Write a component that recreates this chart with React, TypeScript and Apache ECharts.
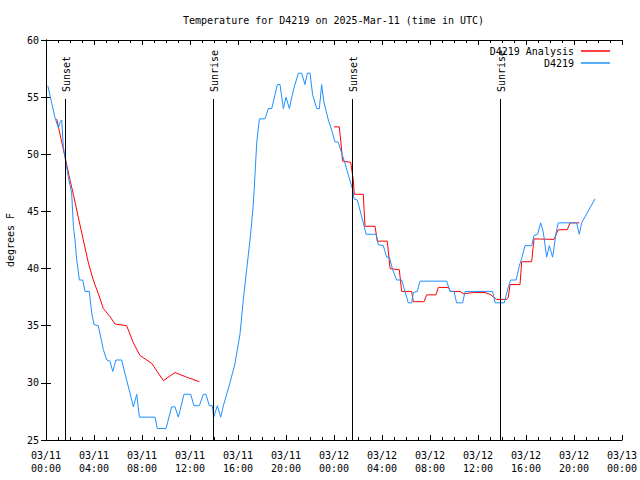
import React, { useEffect, useRef } from "react";
import * as echarts from "echarts";

const TITLE = "Temperature for D4219 on 2025-Mar-11 (time in UTC)";
const Y_NAME = "degrees F";
const SERIES_ANALYSIS = "D4219 Analysis";
const SERIES_OBS = "D4219";

// hours since 2025-03-11 00:00 UTC
const obsHours = [
  0.15, 0.47, 0.75, 1.03, 1.17, 1.31, 1.44, 1.67, 1.86, 2.14, 2.28, 2.42, 2.56, 2.78, 3.06, 3.25,
  3.61, 3.81, 4.0, 4.36, 4.78, 5.06, 5.33, 5.56, 5.83, 6.31, 6.58, 7.0, 7.28, 7.56, 7.78, 9.08,
  9.28, 10.0, 10.47, 10.75, 11.03, 11.5, 12.06, 12.33, 12.78, 13.11, 13.33, 13.61, 13.86, 13.97,
  14.28, 14.56, 14.78, 15.33, 15.75, 16.17, 16.44, 16.72, 17.0, 17.14, 17.28, 17.42, 17.56, 17.78,
  18.25, 18.53, 18.81, 19.08, 19.28, 19.5, 19.78, 20.0, 20.28, 20.61, 21.03, 21.31, 21.58, 21.78,
  22.0, 22.22, 22.56, 22.78, 22.97, 23.17, 23.53, 23.81, 24.08, 24.36, 24.64, 24.92, 25.19, 25.56,
  25.67, 25.94, 26.17, 26.44, 26.67, 27.5, 27.69, 28.11, 28.39, 28.61, 28.89, 29.22, 29.64, 29.92,
  30.19, 30.47, 30.61, 30.94, 31.17, 33.39, 33.67, 34.0, 34.22, 34.72, 34.92, 37.22, 37.42, 38.19,
  38.53, 38.72, 39.17, 39.44, 39.64, 39.92, 40.47, 40.67, 40.97, 41.22, 41.44, 41.72, 41.94, 42.22,
  42.5, 42.69, 44.22, 44.44, 44.64, 45.75,
];
const obsTemps = [
  56.0, 54.5, 53.2, 52.3, 52.8, 53.0, 50.7, 49.2, 48.0, 46.6, 43.7, 42.5, 40.75, 39.0, 39.0, 38.0,
  38.0, 36.1, 35.1, 35.0, 32.9, 32.0, 31.9, 31.0, 32.0, 32.0, 30.8, 29.1, 27.9, 29.0, 27.0, 27.0,
  26.0, 26.0, 27.9, 27.9, 27.0, 29.0, 29.0, 28.0, 28.0, 29.0, 29.0, 28.0, 28.0, 27.0,
  28.0, 27.0, 28.0, 30.0, 31.7, 34.3, 37.25, 39.9, 42.5, 44.0, 45.7, 48.3, 51.0, 53.1,
  53.1, 54.0, 54.0, 55.2, 56.1, 56.1, 54.0, 55.0, 54.0, 55.6, 57.1, 57.1, 56.1, 57.1,
  57.1, 55.2, 54.0, 54.0, 56.1, 54.5, 53.0, 52.1, 51.1, 51.05, 50.1, 49.2, 48.2, 46.9,
  46.1, 46.0, 45.1, 44.0, 43.0, 43.0, 42.1, 42.0, 41.0, 41.0, 39.9, 39.0, 39.0, 38.0,
  37.0, 37.0, 37.9, 38.0, 38.9, 38.9, 38.0, 38.0, 37.0, 37.0, 38.0, 38.0, 37.0, 37.0,
  38.4, 39.0, 39.0, 40.2, 40.9, 42.0, 42.0, 42.9, 43.0, 44.0, 43.2, 41.0, 42.0, 41.0,
  43.1, 44.0, 44.0, 43.0, 44.0, 46.1,
];

// null marks the gap in the analysis series
const anaHours = [
  0.89, 1.22, 1.58, 2.0, 2.28, 2.69, 3.11, 3.53, 3.94, 4.36, 4.78, 5.33, 5.75, 6.72, 7.28, 7.83,
  8.81, 9.78, 10.75, 11.72, 12.78, 18.0,
  24.0, 24.44, 24.58, 24.72, 25.39, 25.61, 25.69, 26.44, 26.58, 27.42, 27.61, 28.44, 28.67, 29.44,
  29.64, 30.47, 30.61, 31.5, 31.72, 32.5, 32.69, 33.53, 33.72, 34.5, 34.78, 35.61, 36.58, 37.0,
  37.56, 38.39, 38.53, 38.67, 39.5, 39.64, 40.47, 40.67, 42.33, 42.69, 43.44, 43.67, 44.44,
];
const anaTemps: (number | null)[] = [
  53.1, 51.5, 49.8, 47.75, 46.5, 44.5, 42.5, 40.5, 39.0, 37.8, 36.5, 35.8, 35.15, 35.0, 33.5, 32.4,
  31.7, 30.2, 30.9, 30.5, 30.1, null,
  52.4, 52.4, 51.0, 49.4, 49.3, 47.75, 46.5, 46.5, 43.7, 43.7, 42.4, 42.4, 40.0, 39.9,
  38.0, 38.0, 37.1, 37.1, 37.7, 37.7, 38.35, 38.35, 38.0, 38.0, 37.8, 37.9, 37.9, 37.75,
  37.3, 37.3, 37.5, 38.6, 38.6, 40.6, 40.6, 42.6, 42.55, 43.4, 43.4, 44.0, 44.0,
];

const eventNames = ["Sunset", "Sunrise", "Sunset", "Sunrise"];
const eventHours = [1.61, 13.94, 25.53, 37.86];
const eventLineTop = 54.84;
const eventLabelBase = 55.45;

const X_MIN = 0;
const X_MAX = 48;
const X_STEP = 4;
const Y_MIN = 25;
const Y_MAX = 60;
const Y_STEP = 5;

const FONT = '"DejaVu Sans Mono", "Liberation Mono", monospace';

function xLabel(v: number): string {
  const day = 11 + Math.floor(v / 24);
  const hh = v % 24;
  return `03/${day}\n${String(hh).padStart(2, "0")}:00`;
}

export default function App() {
  const ref = useRef<HTMLDivElement>(null);
  useEffect(() => {
    if (!ref.current) return;
    const chart = echarts.init(ref.current, undefined, { renderer: "svg" });
    const obsData = obsHours.map((h, i) => [h, obsTemps[i]]);
    const anaData = anaHours.map((h, i) => [h, anaTemps[i] === null ? "-" : anaTemps[i]]);
    const axisLine = { show: true, lineStyle: { color: "#000", width: 1 } };
    const textStyle = { fontFamily: FONT, fontSize: 10, color: "#000" };
    chart.setOption({
      animation: false,
      backgroundColor: "#fff",
      textStyle,
      title: {
        text: TITLE,
        left: 178,
        top: 10,
        textStyle: { fontFamily: FONT, fontSize: 10, fontWeight: "normal", color: "#000" },
      },
      legend: {
        data: [SERIES_ANALYSIS, SERIES_OBS],
        orient: "vertical",
        right: 25,
        top: 40,
        align: "right",
        icon: "rect",
        itemWidth: 29,
        itemHeight: 1.5,
        itemGap: 0,
        textStyle: { fontFamily: FONT, fontSize: 10, color: "#000", lineHeight: 12, padding: [0, 2, 0, 0] },
      },
      grid: { left: 46, right: 18, top: 40, bottom: 40, containLabel: false, outerBoundsMode: "none" },
      xAxis: [
        {
          type: "value",
          min: X_MIN,
          max: X_MAX,
          interval: X_STEP,
          axisLine,
          axisTick: { show: true, inside: true, length: 5, lineStyle: { color: "#000" } },
          minorTick: { show: true, splitNumber: 4, length: 3, lineStyle: { color: "#000" } },
          splitLine: { show: false },
          axisLabel: {
            formatter: xLabel,
            margin: 9,
            fontFamily: FONT,
            fontSize: 10,
            color: "#000",
            lineHeight: 13,
            showMaxLabel: true,
            showMinLabel: true,
          },
        },
        {
          type: "value",
          position: "top",
          min: X_MIN,
          max: X_MAX,
          interval: X_STEP,
          axisLine,
          axisTick: { show: true, inside: true, length: 5, lineStyle: { color: "#000" } },
          minorTick: { show: true, splitNumber: 4, length: 3, lineStyle: { color: "#000" } },
          splitLine: { show: false },
          axisLabel: { show: false },
        },
      ],
      yAxis: [
        {
          type: "value",
          min: Y_MIN,
          max: Y_MAX,
          interval: Y_STEP,
          name: Y_NAME,
          nameLocation: "middle",
          nameGap: 31,
          nameRotate: 90,
          nameTextStyle: { fontFamily: FONT, fontSize: 10, color: "#000" },
          axisLine,
          axisTick: { show: true, inside: true, length: 5, lineStyle: { color: "#000" } },
          splitLine: { show: false },
          axisLabel: { margin: 7, fontFamily: FONT, fontSize: 10, color: "#000" },
        },
        {
          type: "value",
          position: "right",
          min: Y_MIN,
          max: Y_MAX,
          interval: Y_STEP,
          axisLine,
          axisTick: { show: true, inside: true, length: 5, lineStyle: { color: "#000" } },
          splitLine: { show: false },
          axisLabel: { show: false },
        },
      ],
      series: [
        {
          name: SERIES_ANALYSIS,
          type: "line",
          data: anaData,
          showSymbol: false,
          symbol: "none",
          connectNulls: false,
          lineStyle: { color: "#ff0000", width: 1 },
          itemStyle: { color: "#ff0000" },
          z: 3,
        },
        {
          name: SERIES_OBS,
          type: "line",
          data: obsData,
          showSymbol: false,
          symbol: "none",
          lineStyle: { color: "#1e90ff", width: 1 },
          itemStyle: { color: "#1e90ff" },
          z: 4,
        },
        {
          name: "events",
          type: "line",
          data: [],
          z: 2,
          markLine: {
            silent: true,
            symbol: ["none", "none"],
            animation: false,
            label: { show: false },
            lineStyle: { color: "#000", width: 1, type: "solid" },
            data: eventHours.map((h) => [{ coord: [h, Y_MIN] }, { coord: [h, eventLineTop] }]),
          },
        },
      ],
    });
    const graphics = eventHours.map((h, i) => {
      const p = chart.convertToPixel({ xAxisIndex: 0, yAxisIndex: 0 }, [h, eventLabelBase]) as number[];
      return {
        type: "text",
        x: p[0] + 1,
        y: p[1],
        rotation: Math.PI / 2,
        style: {
          text: eventNames[i],
          font: `10px ${FONT}`,
          fill: "#000",
          align: "left",
          verticalAlign: "middle",
        },
      };
    });
    chart.setOption({ graphic: graphics });
    return () => chart.dispose();
  }, []);
  return (
    <div
      ref={ref}
      style={{ position: "absolute", left: 0, top: 0, width: 640, height: 480, background: "#fff" }}
    />
  );
}
